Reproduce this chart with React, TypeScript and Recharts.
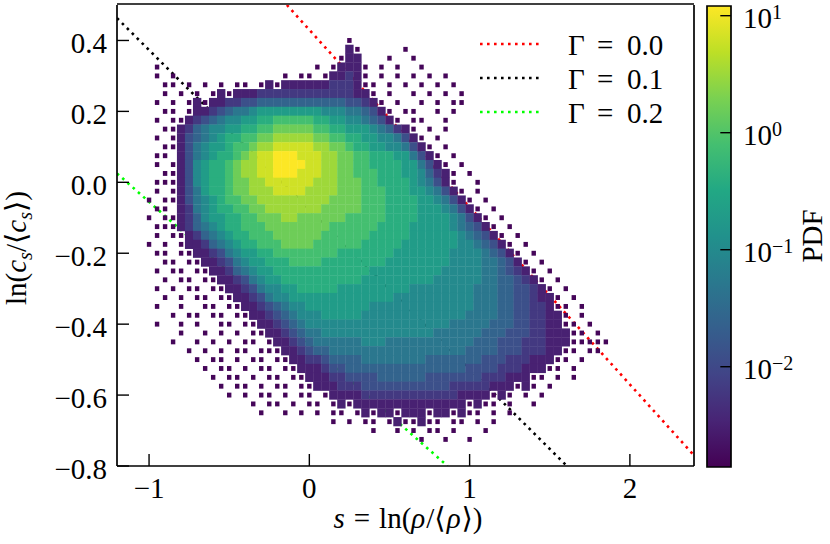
import React from "react";
import { ComposedChart, Scatter, Line, XAxis, YAxis, ReferenceArea, Legend, Label } from "recharts";

const FONT = "'Liberation Serif', 'DejaVu Serif', serif";

const X_DOMAIN = [-1.2, 2.4];
const Y_DOMAIN = [-0.8, 0.5];
const X_MAJOR = [-1, 0, 1, 2];
const X_MINOR = [-1, -0.8, -0.6, -0.4, -0.2, 0, 0.2, 0.4, 0.6, 0.8, 1, 1.2, 1.4, 1.6, 1.8, 2, 2.2];
const Y_MAJOR = [-0.8, -0.6, -0.4, -0.2, 0, 0.2, 0.4];
const Y_MINOR = [
  -0.75, -0.7, -0.65, -0.6, -0.55, -0.5, -0.45, -0.4, -0.35, -0.3, -0.25, -0.2, -0.15,
  -0.1, -0.05, 0, 0.05, 0.1, 0.15, 0.2, 0.25, 0.3, 0.35, 0.4, 0.45,
];

const CB_DOMAIN = [0.00139, 12.1];
const CB_MAJOR = [0.01, 0.1, 1, 10];
const CB_MINOR = [
  0.002, 0.003, 0.004, 0.005, 0.006, 0.007, 0.008, 0.009,
  0.02, 0.03, 0.04, 0.05, 0.06, 0.07, 0.08, 0.09,
  0.2, 0.3, 0.4, 0.5, 0.6, 0.7, 0.8, 0.9,
  2, 3, 4, 5, 6, 7, 8, 9,
];

// histogram: one char per bin, '.' = empty bin, otherwise index into PDF_LEVELS
const LEVEL_CODES = "0123456789ABCD";
const PDF_LEVELS = [0.0016, 0.0032, 0.0063, 0.0126, 0.025, 0.05, 0.1, 0.2, 0.4, 0.8, 1.6, 3.2, 6.3, 12];
const BIN_X0 = -1.0;
const BIN_DX = 0.05;
const BIN_Y0 = 0.4;
const BIN_DY = 0.025;
const HIST_ROWS = [
  ".......... .......... .....0.... .......... .......... .........",
  ".......... .......... .....10... ..0....... .......... .........",
  ".......... .......... ....011... 0..0...... .......... .........",
  ".0........ .......... .0.01110.0 .0..0..... .......... .........",
  ".0.0...... .......0.0 0.011210.0 .0.0.0.0.. .......... .........",
  "..00.0.0.0 .00.010111 111222100. 0.0.0.0.0. .......... .........",
  "..0.0.0.01 0111222222 222222110. 0..0.0.0.0 .......... .........",
  ".0.0.01011 2233444444 4444433210 .0..0.0.00 .......... .........",
  "..00.01123 4556777777 7766655431 0.00..0.0. .......... .........",
  ".0.0012345 6677889999 9887766543 10.00..0.. .......... .........",
  "..00124566 778899AAAA A998877765 4210.0.0.. .......... .........",
  ".0.0134567 8899AABBBB BAA9988776 65310.0... .......... .........",
  "..00135677 899ABBCCCC CBBAA98877 665310.0.. .......... .........",
  ".00.135678 89ABCCDDDC CCBBAA9988 8775310.0. .......... .........",
  ".0.0136788 9ABBCCDDDD CCBBAA9988 88775310.0 .......... .........",
  "..00136788 9ABBCCDDDC CCBBAA9998 887764210. 0......... .........",
  ".000136788 9AABBCCCCC CBBBAAA998 888765310. .0........ .........",
  ".0.0135788 9AABBBCCCC BBBBAAA999 8887765310 .0........ .........",
  "0.00135678 99AABBBBBB BBBAAAA999 8888776531 0.0....... .........",
  ".00.125678 899AABBBBB BBAAAAA999 8888777653 10.0...... .........",
  "0.00124677 8899AAABBA AAAAA99999 8888777765 310.0..... .........",
  ".000124567 88999AAAAA AAA9999998 8887777765 4310.0.... .........",
  ".0.0012456 788999AAAA AA99999988 8887777776 54310.0... .........",
  "0.0.011245 6788999AAA A999999888 8877777776 654310.0.. .........",
  ".00.001123 5677889999 9999888888 8777777766 6654310.0. .........",
  "..00.00112 3567788899 9988888888 7777777766 66554310.0 .........",
  ".0.00.0011 2456778888 8888888877 7777777666 665543210. 0........",
  "..0.00.001 1235677888 8888888777 7777776666 6655443210 .0.......",
  ".0.0.00.00 1123566778 8888777777 7776666666 6555443321 0.0......",
  "..0.0.00.0 0112356677 7777777777 7666666666 6555443321 10.0.....",
  ".0..0..00. 0011234566 7777777766 6666666666 6555443322 100.0....",
  "...0.00.00 .001123456 6677777666 6666666666 5555443322 110.0....",
  ".0..0.0..0 0.00112345 6666666666 6666666655 5554443322 1100.0...",
  "....0..0.0 .0.0011234 5566666666 6666665555 5544433322 11100.0..",
  "...0..0.0. 0.00.01123 4555555666 5555555555 5444333222 11100000.",
  ".....0.0.0 .00.000112 3445555555 5555555555 4444333222 1100.00..",
  "......0.00 .0.00.0011 2234444555 5555544444 4433322211 100.0....",
  ".......0.0 0.0.00.001 1123344444 4444444444 3333222111 00.0.....",
  "........0. 00.0.00.00 1112233334 4444433333 3322211100 .0.0.....",
  ".........0 .00.0.00.0 0111222333 3333333322 222111010. 0........",
  ".......... 0.0.00.0.0 0.01111222 2222222221 111010.0.0 .........",
  ".......... ...0.00.0. 00.0101111 1111111111 0100.0..0. .........",
  ".......... ....0..0.0 .0.00.0101 1011101101 00.0.0.... .........",
  ".......... .......... ...0.0.00. 0100100.00 .0.0...... .........",
  ".......... .......... ........0. .0.0.00.0. ..0....... .........",
  ".......... .......... .......... ....0..0.. 0......... .........",
];

// dotted reference lines, end points where they meet the frame
const GAMMA_00 = [{ x: -0.14, y: 0.5 }, { x: 2.4, y: -0.77 }];
const GAMMA_01 = [{ x: -1.2, y: 0.463 }, { x: 1.607, y: -0.8 }];
const GAMMA_02 = [{ x: -1.2, y: 0.025 }, { x: 0.862, y: -0.8 }];

const VIRIDIS = [
  "#440154", "#482475", "#414487", "#355f8d", "#2a788e", "#21918c",
  "#22a884", "#44bf70", "#7ad151", "#bddf26", "#fde725",
];

// plot box in page pixels (each side carries two 1px axes)
const PLOT = { left: 117, top: 5, right: 694, bottom: 466 };
const CBAR = { left: 707, top: 6, right: 731, bottom: 467 };
const CELL_W = (BIN_DX * (PLOT.right - PLOT.left)) / (X_DOMAIN[1] - X_DOMAIN[0]);
const CELL_H = (BIN_DY * (PLOT.bottom - PLOT.top)) / (Y_DOMAIN[1] - Y_DOMAIN[0]);

const HIST_CELLS = HIST_ROWS.flatMap((row, r) =>
  row
    .replace(/ /g, "")
    .split("")
    .map((ch, i) =>
      ch === "."
        ? null
        : { x: BIN_X0 + i * BIN_DX, y: BIN_Y0 - r * BIN_DY, pdf: PDF_LEVELS[LEVEL_CODES.indexOf(ch)] }
    )
    .filter(Boolean)
);

function hexToRgb(h: string) {
  const n = parseInt(h.slice(1), 16);
  return [(n >> 16) & 255, (n >> 8) & 255, n & 255];
}

function viridis(t: number) {
  const tt = Math.max(0, Math.min(1, t));
  const s = tt * (VIRIDIS.length - 1);
  const i = Math.min(Math.floor(s), VIRIDIS.length - 2);
  const f = s - i;
  const a = hexToRgb(VIRIDIS[i]);
  const b = hexToRgb(VIRIDIS[i + 1]);
  const c = a.map((v, k) => Math.round(v + (b[k] - v) * f));
  return `rgb(${c[0]},${c[1]},${c[2]})`;
}

const LOG_MIN = Math.log10(CB_DOMAIN[0]);
const LOG_MAX = Math.log10(CB_DOMAIN[1]);
const pdfColor = (v: number) => viridis((Math.log10(v) - LOG_MIN) / (LOG_MAX - LOG_MIN));

const fmt = (v: number, digits: number) => (v < 0 ? "\u2212" : "") + Math.abs(v).toFixed(digits);

// the sparsest bins are only partly hit in the source, so draw them smaller
const renderCell = (props: any) => {
  const { cx, cy, payload } = props;
  if (cx == null || cy == null) return <g />;
  const sparse = payload.pdf <= PDF_LEVELS[0];
  const w = sparse ? CELL_W * 0.55 : CELL_W + 0.35;
  const h = sparse ? CELL_H * 0.55 : CELL_H + 0.35;
  return <rect x={cx - w / 2} y={cy - h / 2} width={w} height={h} fill={pdfColor(payload.pdf)} />;
};

const XTick = ({ x, y, payload }: any) => (
  <text x={x} y={y} textAnchor="middle" fontFamily={FONT} fontSize={29} fill="#000">
    {fmt(payload.value, 0)}
  </text>
);

const YTick = ({ x, y, payload }: any) => (
  <text x={x} y={y + 13} textAnchor="end" fontFamily={FONT} fontSize={29} fill="#000">
    {fmt(payload.value, 1)}
  </text>
);

const CbTick = ({ x, y, payload }: any) => {
  const e = Math.round(Math.log10(payload.value));
  return (
    <text x={x} y={y + 12} textAnchor="start" fontFamily={FONT} fontSize={29} fill="#000">
      10
      <tspan dy={-9} fontSize={20}>
        {e < 0 ? "\u2212" + -e : String(e)}
      </tspan>
    </text>
  );
};

const XTitle = () => (
  <text x={408} y={528} textAnchor="middle" fontFamily={FONT} fontSize={29} fill="#000">
    <tspan fontStyle="italic">s</tspan>
    <tspan dx={9}>=</tspan>
    <tspan dx={9}>ln(</tspan>
    <tspan fontStyle="italic">ρ</tspan>
    <tspan dx={1}>/⟨</tspan>
    <tspan fontStyle="italic" dx={1}>ρ</tspan>
    <tspan dx={1}>⟩)</tspan>
  </text>
);

const YTitle = () => (
  <text x={26} y={248} transform="rotate(-90 26 248)" textAnchor="middle" fontFamily={FONT} fontSize={29} fill="#000">
    <tspan>ln(</tspan>
    <tspan fontStyle="italic">c</tspan>
    <tspan fontStyle="italic" fontSize={20} dy={6}>s</tspan>
    <tspan dy={-6}>/⟨</tspan>
    <tspan fontStyle="italic">c</tspan>
    <tspan fontStyle="italic" fontSize={20} dy={6}>s</tspan>
    <tspan dy={-6}>⟩)</tspan>
  </text>
);

const CbTitle = () => (
  <text x={822} y={236} transform="rotate(-90 822 236)" textAnchor="middle" fontFamily={FONT} fontSize={29} fill="#000">
    PDF
  </text>
);

const LegendBox = ({ payload }: any) => {
  const items = (payload || []).filter((p: any) => p.type !== "none");
  return (
    <svg width={230} height={110} style={{ display: "block", overflow: "visible" }}>
      {items.map((p: any, k: number) => {
        const [lhs, rhs] = String(p.value).split(" = ");
        const base = 33 + 34 * k;
        return (
          <g key={p.value}>
            <line x1={10} x2={72} y1={22 + 34 * k} y2={22 + 34 * k} stroke={p.color} strokeWidth={2.6} strokeDasharray="2.6 4.4" />
            <text y={base} fontFamily={FONT} fontSize={29} fill="#000">
              <tspan x={98}>{lhs}</tspan>
              <tspan x={127}>=</tspan>
              <tspan x={157}>{rhs}</tspan>
            </text>
          </g>
        );
      })}
    </svg>
  );
};

const axisLine = { stroke: "#000", strokeWidth: 1.7 };
const tickLine = { stroke: "#000", strokeWidth: 1.4 };

export default function App() {
  return (
    <div style={{ position: "absolute", left: 0, top: 0, width: 830, height: 544, background: "#fff" }}>
      <div style={{ position: "absolute", left: 0, top: 0 }}>
        <ComposedChart
          width={830}
          height={544}
          margin={{ top: PLOT.top - 2, right: 830 - PLOT.right - 2, bottom: 544 - PLOT.bottom - 2, left: PLOT.left - 2 }}
        >
          <XAxis
            dataKey="x"
            type="number"
            domain={X_DOMAIN}
            allowDataOverflow
            ticks={X_MAJOR}
            interval={0}
            height={1}
            tickSize={-12}
            tickMargin={44}
            tick={<XTick />}
            axisLine={axisLine}
            tickLine={tickLine}
          >
            <Label content={<XTitle />} />
          </XAxis>
          <XAxis xAxisId="bminor" type="number" domain={X_DOMAIN} allowDataOverflow ticks={X_MINOR} interval={0} height={1} tickSize={-6.5} tick={false} axisLine={false} tickLine={tickLine} />
          <XAxis xAxisId="top" orientation="top" type="number" domain={X_DOMAIN} allowDataOverflow ticks={X_MAJOR} interval={0} height={1} tickSize={-12} tick={false} axisLine={axisLine} tickLine={tickLine} />
          <XAxis xAxisId="tminor" orientation="top" type="number" domain={X_DOMAIN} allowDataOverflow ticks={X_MINOR} interval={0} height={1} tickSize={-6.5} tick={false} axisLine={false} tickLine={tickLine} />
          <YAxis
            dataKey="y"
            type="number"
            domain={Y_DOMAIN}
            allowDataOverflow
            ticks={Y_MAJOR}
            interval={0}
            width={1}
            tickSize={-12}
            tickMargin={22}
            tick={<YTick />}
            axisLine={axisLine}
            tickLine={tickLine}
          >
            <Label content={<YTitle />} />
          </YAxis>
          <YAxis yAxisId="lminor" type="number" domain={Y_DOMAIN} allowDataOverflow ticks={Y_MINOR} interval={0} width={1} tickSize={-6.5} tick={false} axisLine={false} tickLine={tickLine} />
          <YAxis yAxisId="right" orientation="right" type="number" domain={Y_DOMAIN} allowDataOverflow ticks={Y_MAJOR} interval={0} width={1} tickSize={-12} tick={false} axisLine={axisLine} tickLine={tickLine} />
          <YAxis yAxisId="rminor" orientation="right" type="number" domain={Y_DOMAIN} allowDataOverflow ticks={Y_MINOR} interval={0} width={1} tickSize={-6.5} tick={false} axisLine={false} tickLine={tickLine} />

          <Scatter data={HIST_CELLS} shape={renderCell} legendType="none" isAnimationActive={false} />

          <Line data={GAMMA_00} dataKey="y" name="Γ = 0.0" stroke="#ff0000" strokeWidth={2.6} strokeDasharray="2.6 4.4" dot={false} activeDot={false} isAnimationActive={false} />
          <Line data={GAMMA_01} dataKey="y" name="Γ = 0.1" stroke="#000000" strokeWidth={2.6} strokeDasharray="2.6 4.4" dot={false} activeDot={false} isAnimationActive={false} />
          <Line data={GAMMA_02} dataKey="y" name="Γ = 0.2" stroke="#00ff00" strokeWidth={2.6} strokeDasharray="2.6 4.4" dot={false} activeDot={false} isAnimationActive={false} />

          <Legend
            layout="vertical"
            align="center"
            verticalAlign="middle"
            content={<LegendBox />}
            wrapperStyle={{ position: "absolute", left: 470, top: 22, width: 230, height: 110 }}
          />
        </ComposedChart>
      </div>

      <div style={{ position: "absolute", left: 0, top: 0 }}>
        <ComposedChart
          width={830}
          height={544}
          margin={{ top: CBAR.top, right: 830 - CBAR.right - 2, bottom: 544 - CBAR.bottom, left: CBAR.left }}
        >
          <defs>
            <linearGradient id="viridisBar" x1="0" y1="1" x2="0" y2="0">
              {VIRIDIS.map((c, k) => (
                <stop key={c} offset={k / (VIRIDIS.length - 1)} stopColor={c} />
              ))}
            </linearGradient>
          </defs>
          <XAxis type="number" dataKey="x" domain={[0, 1]} allowDataOverflow hide />
          <YAxis
            orientation="right"
            type="number"
            scale="log"
            domain={CB_DOMAIN}
            allowDataOverflow
            ticks={CB_MAJOR}
            interval={0}
            width={1}
            tickSize={-10.7}
            tickMargin={22.7}
            tick={<CbTick />}
            axisLine={false}
            tickLine={tickLine}
          >
            <Label content={<CbTitle />} />
          </YAxis>
          <YAxis yAxisId="cbminor" orientation="right" type="number" scale="log" domain={CB_DOMAIN} allowDataOverflow ticks={CB_MINOR} interval={0} width={1} tickSize={-5} tick={false} axisLine={false} tickLine={tickLine} />
          <ReferenceArea
            x1={0}
            x2={1}
            y1={CB_DOMAIN[0]}
            y2={CB_DOMAIN[1]}
            fill="url(#viridisBar)"
            fillOpacity={1}
            stroke="#000"
            strokeWidth={1.7}
          />
        </ComposedChart>
      </div>
    </div>
  );
}
